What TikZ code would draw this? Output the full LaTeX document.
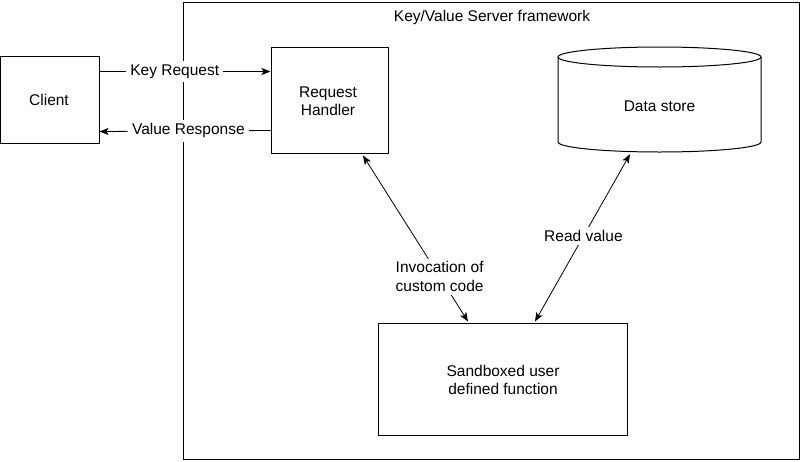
\documentclass[tikz,border=0pt]{standalone}
\usepackage{fontspec}
\setmainfont{Liberation Sans}
\usetikzlibrary{arrows.meta,calc}
\begin{document}
\begin{tikzpicture}[x=1pt,y=-1pt,
  box/.style={draw=black,line width=1pt,rectangle,inner sep=0pt,align=center},
  txt/.style={font=\fontsize{15.5}{18.5}\selectfont,align=center},
  arr/.style={line width=0.8pt,-{Stealth[length=9pt,width=7pt,inset=2pt]}},
  darr/.style={line width=0.8pt,{Stealth[length=9pt,width=7pt,inset=2pt]}-{Stealth[length=9pt,width=7pt,inset=2pt]}},
  lbl/.style={txt,fill=white,inner sep=4pt}]
\useasboundingbox (0,0) rectangle (800,461);
% framework
\node[box,minimum width=616pt,minimum height=457pt] (fw) at (491,230.5) {};
\node[txt] (title) at (492,17) {Key/Value Server framework};
% client
\node[box,minimum width=98.4pt,minimum height=87pt] (cl) at (49.8,99.5) {};
\node[txt] (cltxt) at (49,100) {Client};
% request handler
\node[box,minimum width=117pt,minimum height=106pt] (rh) at (329.5,100) {};
\node[txt] (rhtxt) at (328,101) {Request\\Handler};
% sandbox
\node[box,minimum width=249pt,minimum height=112pt] (sb) at (502.5,379) {};
\node[txt] (sbtxt) at (503,380) {Sandboxed user\\defined function};
% data store cylinder
\node[inner sep=0pt,minimum width=203pt,minimum height=105pt] (ds) at (659.5,99.5) {};
\draw[line width=1pt] (659.5,57) ellipse [x radius=101.5pt,y radius=10pt];
\draw[line width=1pt] (558,57) -- (558,142)
  arc[start angle=180,end angle=360,x radius=101.5pt,y radius=10pt] -- (761,57);
\node[txt] (dstxt) at (659.5,106) {Data store};
% connectors
\draw[arr] ($(cl.north east)+(0,16)$) -- node[lbl,pos=0.44] (kr) {Key Request} ($(rh.north west)+(0,25)$);
\draw[arr] ($(rh.north west)+(0,84)$) -- node[lbl,pos=0.48] (vr) {Value Response} ($(cl.north east)+(0,76)$);
\draw[darr] ($(rh.south)+(33.5,2)$) -- node[lbl,pos=0.73,inner sep=3pt] (inv) {Invocation of\\custom code} ($(sb.north)+(-34.5,-1)$);
\draw[darr] ($(sb.north)+(32.5,-1)$) -- node[lbl,pos=0.51,inner sep=3pt] (rv) {Read value} ($(ds.south)+(-29.5,2)$);
\end{tikzpicture}
\end{document}
